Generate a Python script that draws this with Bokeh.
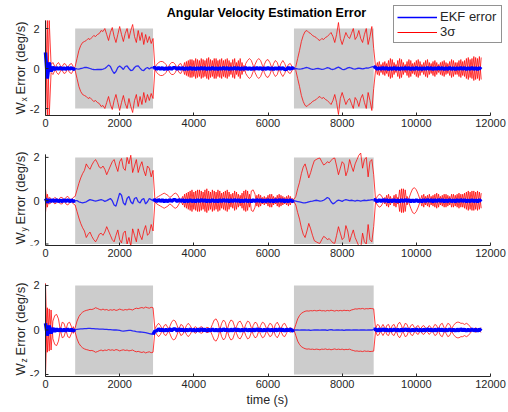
import math
from bokeh.plotting import figure
from bokeh.layouts import column
from bokeh.models import Range1d, Label, Legend, LegendItem, FixedTicker, Title
from bokeh.core.properties import value
from bokeh.embed import file_html
from bokeh.resources import INLINE

# time samples (s), every 50 s
t = list(range(0, 11800, 50))

# ---- W_x : 3-sigma bound and EKF error ----
wx_sig = [
    2.4, -2.4, 2.4, 0.2, 0.3, 0.1, -0.2, -0.3, -0.15, 0.1,
    0.25, 0.2, -0.05, -0.2, -0.25, -0.1, 0.1, 0.5, 0.9, 1.15,
    1.3, 1.35, 1.4, 1.5, 1.45, 1.55, 1.65, 1.6, 1.7, 1.75,
    1.9, 1.85, 2.0, 1.7, 1.4, 1.8, 2.05, 1.6, 1.3, 1.7,
    2.1, 1.7, 1.35, 1.75, 2.0, 1.5, 1.9, 2.2, 1.6, 1.3,
    1.9, 1.4, 1.8, 1.2, 1.7, 1.3, 1.6, 1.25, 1.5, 0.05,
    0.2, 0.3, 0.35, 0.35, 0.3, 0.2, 0.0, -0.2, -0.3, -0.3,
    -0.2, 0.0, 0.2, 0.25, 0.05, -0.3, 0.35, -0.4, 0.45, -0.45,
    0.4, -0.5, 0.45, -0.4, 0.5, -0.45, 0.4, -0.5, 0.55, -0.45,
    0.4, -0.5, 0.5, -0.4, 0.45, -0.5, 0.4, -0.45, 0.5, -0.4,
    0.3, -0.45, 0.5, -0.3, 0.4, -0.5, 0.3, -0.15, 0.25, 0.4,
    0.5, 0.4, 0.15, -0.2, -0.4, -0.5, -0.4, -0.15, 0.2, 0.4,
    0.45, 0.3, 0.05, -0.25, -0.4, -0.3, 0.0, 0.25, 0.4, 0.25,
    0.0, -0.2, -0.25, -0.1, 0.0, 0.1, 0.5, 0.9, 1.35, 1.65,
    1.85, 1.9, 1.8, 1.75, 1.65, 1.6, 1.55, 1.45, 1.4, 1.5,
    1.45, 1.55, 1.6, 1.7, 1.8, 1.6, 1.3, 1.7, 2.3, 1.5,
    1.2, 1.5, 1.8, 1.6, 1.5, 1.75, 2.0, 1.45, 1.6, 1.9,
    1.5, 1.3, 1.7, 2.0, 1.2, 1.6, 2.1, 1.0, 0.1, -0.3,
    0.35, -0.2, 0.3, -0.35, 0.25, -0.4, 0.5, -0.45, 0.3, -0.2,
    0.4, -0.5, 0.45, -0.3, 0.2, -0.35, 0.45, -0.4, 0.25, -0.3,
    0.4, -0.45, 0.35, -0.2, 0.3, -0.4, 0.45, -0.3, 0.25, -0.35,
    0.4, -0.3, 0.2, -0.3, 0.35, -0.4, 0.3, -0.25, 0.35, -0.45,
    0.4, -0.3, 0.3, -0.4, 0.45, -0.35, 0.4, -0.5, 0.55, -0.45,
    0.5, -0.6, 0.55, -0.5, 0.6, -0.55,
]
wx_err = [
    0.8, -0.5, 0.3, -0.15, 0.08, -0.05, 0.04, -0.03, 0.05, -0.04,
    0.03, -0.04, 0.05, -0.03, 0.04, -0.04, 0.0, -0.02, -0.03, 0.0,
    0.02, 0.05, 0.06, 0.03, 0.0, -0.03, -0.05, -0.06, -0.05, -0.04,
    -0.05, -0.03, 0.0, 0.08, 0.17, 0.1, -0.1, -0.25, -0.15, 0.05,
    0.12, 0.05, -0.05, 0.1, 0.13, 0.0, -0.1, -0.08, 0.05, 0.12,
    0.13, 0.02, -0.08, -0.1, 0.0, 0.05, -0.02, 0.05, 0.03, 0.05,
    -0.04, 0.05, -0.03, 0.04, -0.05, 0.03, -0.04, 0.05, -0.03, 0.04,
    0.04, -0.04, 0.05, -0.03, 0.04, -0.05, 0.03, -0.04, 0.05, -0.04,
    0.03, -0.05, 0.04, -0.04, 0.05, -0.03, 0.04, -0.05, 0.03, -0.04,
    0.05, -0.04, 0.03, -0.05, 0.04, -0.04, 0.05, -0.03, 0.04, -0.05,
    0.04, -0.04, 0.05, -0.03, 0.04, -0.05, 0.03, -0.04, 0.05, -0.04,
    0.03, -0.05, 0.04, -0.04, 0.05, -0.03, 0.04, -0.05, 0.03, -0.04,
    0.05, -0.04, 0.03, -0.05, 0.04, -0.04, 0.05, -0.03, 0.04, -0.05,
    -0.04, 0.05, -0.03, 0.04, -0.02, 0.0, -0.02, -0.03, -0.02, 0.0,
    0.03, 0.05, 0.02, -0.02, -0.04, -0.03, -0.01, 0.0, -0.02, -0.04,
    -0.03, 0.0, 0.04, 0.02, -0.03, -0.05, -0.02, 0.03, 0.07, 0.02,
    -0.04, -0.06, -0.02, 0.03, 0.05, 0.02, -0.02, -0.03, 0.0, 0.02,
    0.0, -0.02, 0.0, 0.03, 0.02, 0.05, 0.08, 0.1, 0.05, -0.04,
    0.04, -0.04, 0.05, -0.03, 0.04, -0.05, 0.03, -0.04, 0.05, -0.04,
    0.03, -0.05, 0.04, -0.04, 0.05, -0.03, 0.04, -0.05, 0.03, -0.04,
    0.05, -0.04, 0.03, -0.05, 0.04, -0.04, 0.05, -0.03, 0.04, -0.05,
    0.04, -0.04, 0.05, -0.03, 0.04, -0.05, 0.03, -0.04, 0.05, -0.04,
    0.03, -0.05, 0.04, -0.04, 0.05, -0.03, 0.04, -0.05, 0.03, -0.04,
    0.05, -0.04, 0.03, -0.05, 0.04, -0.04,
]

# ---- W_y ----
wy_sig = [
    0.55, -0.3, 0.15, 0.1, -0.05, -0.15, -0.1, 0.05, 0.15, 0.15,
    0.0, -0.15, -0.2, -0.1, 0.05, 0.15, 0.2, 0.5, 0.8, 1.05,
    1.25, 1.4, 1.7, 1.55, 1.45, 1.65, 1.8, 1.9, 1.75, 1.55,
    1.5, 1.6, 1.45, 1.2, 1.4, 1.6, 1.8, 1.9, 1.6, 1.35,
    1.8, 1.95, 1.5, 1.4, 2.0, 1.7, 2.1, 1.3, 1.6, 1.9,
    1.3, 1.6, 1.8, 1.4, 1.15, 1.6, 1.5, 1.1, 1.4, 0.05,
    0.15, 0.2, 0.25, 0.3, 0.35, 0.3, 0.25, 0.15, 0.2, 0.3,
    0.35, 0.3, 0.15, 0.0, -0.2, 0.3, -0.35, 0.4, -0.45, 0.5,
    -0.4, 0.45, -0.5, 0.5, -0.45, 0.4, -0.5, 0.55, -0.45, 0.4,
    -0.5, 0.45, -0.4, 0.5, -0.45, 0.35, -0.4, 0.45, -0.5, 0.4,
    -0.3, 0.35, -0.45, 0.4, -0.3, 0.25, -0.35, 0.45, -0.5, 0.45,
    -0.3, 0.45, 0.5, 0.3, -0.25, 0.3, -0.25, 0.15, -0.2, 0.15,
    -0.25, 0.3, -0.3, 0.2, -0.15, 0.25, -0.3, 0.25, -0.2, 0.15,
    -0.2, 0.25, -0.2, 0.1, 0.05, 0.2, 0.55, 0.85, 1.25, 1.55,
    1.7, 1.4, 1.05, 1.3, 1.6, 1.85, 1.9, 1.95, 1.97, 1.8,
    1.65, 1.7, 1.8, 1.75, 1.85, 1.95, 1.97, 1.6, 1.2, 1.5,
    1.8, 1.7, 1.15, 1.4, 1.9, 1.6, 1.35, 1.7, 1.9, 2.1,
    2.2, 1.5, 1.9, 2.0, 1.1, 1.8, 1.9, 1.2, 0.05, 0.2,
    0.3, 0.25, 0.1, -0.15, 0.25, -0.3, 0.2, -0.1, 0.25, -0.3,
    0.15, -0.5, 0.55, -0.55, 0.5, -0.2, 0.1, 0.35, 0.55, 0.6,
    0.5, 0.3, 0.05, -0.25, 0.3, -0.2, 0.25, -0.3, 0.2, -0.25,
    0.3, -0.35, 0.3, -0.2, 0.25, -0.3, 0.3, -0.25, 0.2, -0.3,
    0.3, -0.25, 0.3, -0.35, 0.3, -0.3, 0.35, -0.4, 0.45, -0.4,
    0.45, -0.45, 0.4, -0.45, 0.4, -0.35,
]
wy_err = [
    0.1, -0.08, 0.05, -0.04, 0.04, -0.03, 0.04, -0.04, 0.03, -0.04,
    0.04, -0.03, 0.04, -0.04, 0.03, -0.03, 0.0, 0.0, -0.05, -0.08,
    -0.1, -0.08, -0.05, 0.0, 0.05, 0.03, 0.0, -0.02, 0.0, 0.03,
    0.05, 0.02, -0.03, 0.0, 0.05, 0.1, 0.0, -0.2, -0.25, 0.05,
    0.35, 0.25, -0.1, -0.2, 0.1, 0.2, -0.05, -0.15, 0.1, 0.15,
    -0.05, -0.1, 0.05, 0.1, -0.15, -0.05, 0.1, 0.05, 0.0, 0.04,
    -0.04, 0.05, -0.03, 0.04, -0.05, 0.03, -0.04, 0.05, -0.03, 0.04,
    0.04, -0.04, 0.05, -0.03, 0.04, -0.05, 0.03, -0.04, 0.05, -0.04,
    0.03, -0.05, 0.04, -0.04, 0.05, -0.03, 0.04, -0.05, 0.03, -0.04,
    0.05, -0.04, 0.03, -0.05, 0.04, -0.04, 0.05, -0.03, 0.04, -0.05,
    0.04, -0.04, 0.05, -0.03, 0.04, -0.05, 0.03, -0.04, 0.05, -0.04,
    0.03, -0.05, 0.04, -0.04, 0.05, -0.03, 0.04, -0.05, 0.03, -0.04,
    0.05, -0.04, 0.03, -0.05, 0.04, -0.04, 0.05, -0.03, 0.04, -0.05,
    0.03, -0.04, 0.04, -0.03, 0.0, -0.02, -0.04, -0.06, -0.08, -0.1,
    -0.1, -0.08, -0.05, -0.03, -0.02, 0.0, 0.02, 0.0, -0.02, -0.01,
    0.02, 0.08, 0.15, 0.1, -0.05, -0.15, -0.1, -0.02, 0.03, 0.0,
    -0.03, 0.02, 0.05, 0.03, 0.0, 0.02, 0.0, -0.02, 0.01, 0.0,
    -0.02, 0.0, 0.02, 0.0, 0.02, 0.03, 0.05, 0.04, 0.03, -0.04,
    0.04, -0.04, 0.05, -0.03, 0.04, -0.05, 0.03, -0.04, 0.05, -0.04,
    0.03, -0.05, 0.04, -0.04, 0.05, -0.03, 0.04, -0.05, 0.03, -0.04,
    0.05, -0.04, 0.03, -0.05, 0.04, -0.04, 0.05, -0.03, 0.04, -0.05,
    0.04, -0.04, 0.05, -0.03, 0.04, -0.05, 0.03, -0.04, 0.05, -0.04,
    0.03, -0.05, 0.04, -0.04, 0.05, -0.03, 0.04, -0.05, 0.03, -0.04,
    0.05, -0.04, 0.03, -0.05, 0.04, -0.04,
]

# ---- W_z ----
wz_sig = [
    2.1, -1.0, 0.95, -0.9, 0.4, 0.65, 0.7, 0.5, 0.0, -0.35,
    -0.3, 0.0, 0.3, 0.35, 0.15, -0.15, 0.1, 0.4, 0.6, 0.72,
    0.8, 0.85, 0.88, 0.9, 0.93, 0.92, 0.95, 1.0, 0.97, 0.93,
    0.9, 0.94, 0.9, 0.92, 0.88, 0.91, 0.89, 0.92, 0.88, 0.9,
    0.94, 0.91, 0.89, 0.92, 0.9, 0.94, 0.92, 0.9, 0.95, 0.98,
    0.96, 0.99, 1.01, 0.98, 1.03, 1.0, 0.98, 1.02, 1.0, 0.05,
    0.2, 0.3, 0.2, 0.0, -0.2, -0.25, -0.1, 0.15, 0.35, 0.45,
    0.4, 0.2, -0.05, -0.25, -0.2, 0.0, 0.2, 0.3, 0.2, 0.05,
    -0.1, -0.15, -0.05, 0.1, 0.15, 0.1, -0.05, -0.12, -0.1, 0.05,
    0.25, 0.45, 0.5, 0.35, 0.0, -0.3, -0.45, -0.35, 0.0, 0.3,
    0.45, 0.4, 0.15, -0.15, -0.35, -0.4, -0.25, 0.0, 0.25, 0.4,
    0.35, 0.1, -0.2, -0.35, -0.3, -0.05, 0.2, 0.35, 0.3, 0.1,
    -0.15, -0.3, -0.25, 0.0, 0.25, 0.35, 0.2, -0.05, -0.25, -0.3,
    -0.15, 0.05, 0.1, 0.05, 0.0, 0.25, 0.5, 0.65, 0.75, 0.8,
    0.84, 0.86, 0.85, 0.87, 0.86, 0.88, 0.86, 0.87, 0.89, 0.86,
    0.87, 0.85, 0.88, 0.86, 0.89, 0.87, 0.85, 0.88, 0.86, 0.88,
    0.86, 0.89, 0.87, 0.88, 0.86, 0.9, 0.92, 0.95, 0.94, 0.96,
    0.95, 0.97, 0.94, 0.96, 0.95, 0.97, 0.96, 0.95, 0.05, 0.25,
    0.2, -0.1, -0.25, -0.1, 0.2, 0.25, 0.05, -0.2, -0.25, -0.05,
    0.25, 0.35, 0.2, -0.1, -0.3, -0.25, 0.0, 0.2, 0.25, 0.1,
    -0.15, -0.2, -0.05, 0.15, 0.2, 0.1, -0.1, -0.2, -0.1, 0.1,
    0.25, 0.2, -0.05, -0.25, -0.3, -0.1, 0.15, 0.3, 0.25, 0.05,
    0.2, 0.3, 0.35, 0.35, 0.3, 0.3, 0.25, 0.3, 0.25, 0.15,
    0.05, -0.05, -0.1, -0.05, 0.05, 0.1,
]
wz_err = [
    0.3, -0.25, 0.2, -0.15, 0.08, -0.06, 0.05, -0.04, 0.04, -0.04,
    0.03, -0.04, 0.04, -0.03, 0.03, -0.04, 0.02, 0.03, 0.04, 0.05,
    0.05, 0.06, 0.06, 0.07, 0.07, 0.06, 0.06, 0.05, 0.05, 0.04,
    0.04, 0.04, 0.03, 0.03, 0.02, 0.02, 0.01, 0.0, 0.0, -0.01,
    -0.02, -0.04, -0.05, -0.04, -0.03, -0.02, -0.02, -0.04, -0.05, -0.07,
    -0.08, -0.09, -0.1, -0.11, -0.12, -0.14, -0.16, -0.18, -0.2, -0.05,
    -0.04, 0.05, -0.03, 0.04, -0.05, 0.03, -0.04, 0.05, -0.03, 0.04,
    0.04, -0.04, 0.05, -0.03, 0.04, -0.05, 0.03, -0.04, 0.05, -0.04,
    0.03, -0.05, 0.04, -0.04, 0.05, -0.03, 0.04, -0.05, 0.03, -0.04,
    0.05, -0.04, 0.03, -0.05, 0.04, -0.04, 0.05, -0.03, 0.04, -0.05,
    0.04, -0.04, 0.05, -0.03, 0.04, -0.05, 0.03, -0.04, 0.05, -0.04,
    0.03, -0.05, 0.04, -0.04, 0.05, -0.03, 0.04, -0.05, 0.03, -0.04,
    0.05, -0.04, 0.03, -0.05, 0.04, -0.04, 0.05, -0.03, 0.04, -0.05,
    0.04, -0.03, 0.04, -0.04, 0.0, 0.01, 0.0, -0.01, 0.0, 0.01,
    0.0, -0.01, 0.0, -0.02, -0.01, 0.0, 0.01, 0.0, -0.01, 0.0,
    0.01, 0.0, -0.02, 0.01, 0.02, 0.0, -0.01, 0.0, 0.01, -0.01,
    0.0, -0.02, 0.0, 0.01, 0.0, -0.01, 0.0, 0.01, 0.0, -0.01,
    0.0, 0.01, 0.0, -0.01, 0.0, 0.01, 0.0, 0.02, 0.04, -0.04,
    0.04, -0.04, 0.05, -0.03, 0.04, -0.05, 0.03, -0.04, 0.05, -0.04,
    0.03, -0.05, 0.04, -0.04, 0.05, -0.03, 0.04, -0.05, 0.03, -0.04,
    0.05, -0.04, 0.03, -0.05, 0.04, -0.04, 0.05, -0.03, 0.04, -0.05,
    0.04, -0.04, 0.05, -0.03, 0.04, -0.05, 0.03, -0.04, 0.05, -0.04,
    0.03, -0.05, 0.04, -0.04, 0.05, -0.03, 0.04, -0.05, 0.03, -0.04,
    0.05, -0.04, 0.03, -0.05, 0.04, -0.04,
]

# shaded manoeuvre intervals
gray_start = [800, 6700]
gray_end = [2900, 8850]
gray_low = -2
gray_high = 2

x_ticks = [0, 2000, 4000, 6000, 8000, 10000, 12000]
y_ticks = [-2, 0, 2]
y_tick_labels = ["-2", "0", "2"]
sub_names = ["x", "y", "z"]
title_text = "Angular Velocity Estimation Error"
legend_labels = ["EKF error", "3σ"]
x_label = "time (s)"

for s in (wx_sig, wx_err, wy_sig, wy_err, wz_sig, wz_err):
    assert len(s) == len(t), len(s)

FONT = "Liberation Sans"
AX = "#262626"
W = 508
LEFT, RIGHT = 45, 18          # pixel margins of the axes box
XMAX = 12000
UPX = XMAX / (W - LEFT - RIGHT)   # data units per pixel along x


def in_gray(x):
    return any(a < x < b for a, b in zip(gray_start, gray_end))


def make_fig(height, bottom, ax_lo, ax_hi, y_top, sig, err, sub):
    # frame covers the whole canvas above the x axis; the y axis is drawn at x=0
    p = figure(width=W, height=height,
               x_range=Range1d(-LEFT * UPX, XMAX + RIGHT * UPX),
               y_range=Range1d(ax_lo, y_top), output_backend="svg",
               toolbar_location=None, y_axis_location=None,
               min_border_left=0, min_border_right=0, min_border_top=0,
               min_border_bottom=bottom)
    p.outline_line_color = None
    p.grid.visible = False
    p.background_fill_color = "white"
    p.border_fill_color = "white"
    p.quad(left=gray_start, right=gray_end, bottom=[gray_low] * len(gray_start),
           top=[gray_high] * len(gray_start), fill_color="#cccccc", line_color=None)
    lower = [-v for v in sig]
    p.line(t, sig, line_color="#ff0000", line_alpha=0.75, line_width=1)
    p.line(t, lower, line_color="#ff0000", line_alpha=0.75, line_width=1)
    p.line(t, err, line_color="#0000ff", line_alpha=0.8, line_width=1.3)
    band = [v if not in_gray(x) else float("nan") for x, v in zip(t, err)]
    p.line(t, band, line_color="#0000ff", line_width=3.5)

    # x axis (library axis, limited to the data extent)
    ax = p.xaxis[0]
    ax.bounds = (0, XMAX)
    ax.ticker = FixedTicker(ticks=x_ticks)
    ax.major_tick_in = 3
    ax.major_tick_out = 0
    ax.minor_tick_in = 0
    ax.minor_tick_out = 0
    ax.axis_line_color = AX
    ax.major_tick_line_color = AX
    ax.major_label_text_color = AX
    ax.major_label_text_font = FONT
    ax.major_label_text_font_size = "11px"
    ax.major_label_standoff = 3

    # y axis drawn at x = 0
    p.segment(x0=[0], y0=[ax_lo], x1=[0], y1=[ax_hi], line_color=AX, line_width=1)
    p.ray(x=[0] * len(y_ticks), y=y_ticks, length=3, length_units="screen",
          angle=0, line_color=AX, line_width=1)
    p.text(x=[0] * len(y_ticks), y=y_ticks, text=y_tick_labels, x_offset=-6,
           text_align="right", text_baseline="middle", text_font=value(FONT),
           text_font_size="11px", text_color=AX)

    # rotated y label with subscript (screen units relative to frame bottom-left)
    p.add_layout(Label(x=20, y=1, x_units="screen", y_units="screen", text="W",
                       angle=math.pi / 2, text_font=FONT, text_font_size="13px",
                       text_align="left", text_baseline="alphabetic", text_color=AX))
    p.add_layout(Label(x=23, y=14, x_units="screen", y_units="screen", text=sub,
                       angle=math.pi / 2, text_font=FONT, text_font_size="8.5px",
                       text_align="left", text_baseline="alphabetic", text_color=AX))
    p.add_layout(Label(x=20, y=21, x_units="screen", y_units="screen", text="Error (deg/s)",
                       angle=math.pi / 2, text_font=FONT, text_font_size="13px",
                       text_align="left", text_baseline="alphabetic", text_color=AX))
    return p


#                height bottom  axis lo, axis hi, frame top
p1 = make_fig(140, 25, -2.35, 2.4, 3.4, wx_sig, wx_err, sub_names[0])
p2 = make_fig(130, 25, -2.07, 2.14, 2.78, wy_sig, wy_err, sub_names[1])
p3 = make_fig(142, 36, -2.09, 2.045, 2.674, wz_sig, wz_err, sub_names[2])

# title (inside the top frame; frame bottom is at pixel 115)
p1.add_layout(Label(x=266, y=103, x_units="screen", y_units="screen", text=title_text,
                    text_font=FONT, text_font_size="12.5px", text_font_style="bold",
                    text_align="center", text_baseline="middle", text_color="black"))

# x label, centred under the axis (0..12000) rather than under the canvas
p3.add_layout(Title(text=x_label, align="left", offset=246, standoff=2,
                    text_font=FONT, text_font_size="12.5px", text_font_style="normal",
                    text_color=AX, vertical_align="middle"), "below")

nan = float("nan")
l_ekf = p1.line([nan], [nan], line_color="#0000ff", line_width=1.5)
l_sig = p1.line([nan], [nan], line_color="#ff0000", line_width=1)
legend = Legend(items=[LegendItem(label=legend_labels[0], renderers=[l_ekf]),
                       LegendItem(label=legend_labels[1], renderers=[l_sig])],
                location=(393, 72))
legend.border_line_color = AX
legend.border_line_width = 1
legend.background_fill_alpha = 1
legend.label_text_font = FONT
legend.label_text_font_size = "13px"
legend.label_text_color = AX
legend.glyph_width = 40
legend.glyph_height = 14
legend.label_height = 14
legend.label_width = 58
legend.label_standoff = 3
legend.padding = 3
legend.spacing = 0
legend.margin = 0
p1.add_layout(legend)

layout = column(p1, p2, p3)
open("out.html", "w").write(file_html(layout, INLINE))
